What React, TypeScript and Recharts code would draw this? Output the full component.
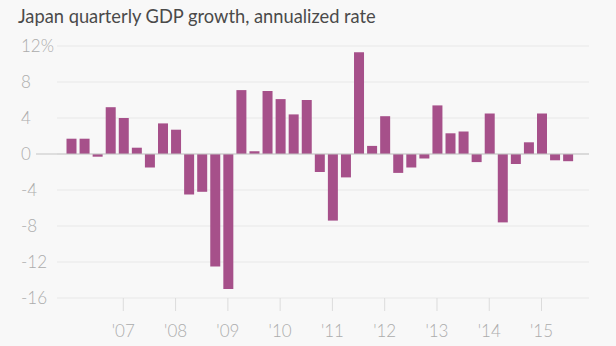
import { BarChart, Bar, XAxis, YAxis, CartesianGrid, ReferenceLine } from 'recharts';

const quarters = [
  '2006 Q1', '2006 Q2', '2006 Q3', '2006 Q4',
  '2007 Q1', '2007 Q2', '2007 Q3', '2007 Q4',
  '2008 Q1', '2008 Q2', '2008 Q3', '2008 Q4',
  '2009 Q1', '2009 Q2', '2009 Q3', '2009 Q4',
  '2010 Q1', '2010 Q2', '2010 Q3', '2010 Q4',
  '2011 Q1', '2011 Q2', '2011 Q3', '2011 Q4',
  '2012 Q1', '2012 Q2', '2012 Q3', '2012 Q4',
  '2013 Q1', '2013 Q2', '2013 Q3', '2013 Q4',
  '2014 Q1', '2014 Q2', '2014 Q3', '2014 Q4',
  '2015 Q1', '2015 Q2', '2015 Q3',
];

const growth = [
  1.7, 1.7, -0.3, 5.2,
  4.0, 0.7, -1.5, 3.4,
  2.7, -4.5, -4.2, -12.5,
  -15.0, 7.1, 0.3, 7.0,
  6.1, 4.4, 6.0, -2.0,
  -7.4, -2.6, 11.3, 0.9,
  4.2, -2.1, -1.5, -0.5,
  5.4, 2.3, 2.5, -0.9,
  4.5, -7.6, -1.1, 1.3,
  4.5, -0.7, -0.8,
];

const yearTicks = ['2007 Q1', '2008 Q1', '2009 Q1', '2010 Q1', '2011 Q1', '2012 Q1', '2013 Q1', '2014 Q1', '2015 Q1'];
const yearLabels = ["'07", "'08", "'09", "'10", "'11", "'12", "'13", "'14", "'15"];
const yTicks = [-16, -12, -8, -4, 0, 4, 8, 12];

const data = quarters.map((q, i) => ({ quarter: q, value: growth[i] }));

const FONT = 'Lato, "Open Sans", sans-serif';
const LABEL = '#acacac';

const XTick = ({ x, y, payload }: any) => {
  const idx = yearTicks.indexOf(payload.value);
  if (idx < 0) return <g />;
  return (
    <g>
      <line x1={x} x2={x} y1={y} y2={y + 13} stroke="#dcdcdc" />
      <text x={x} y={y + 39} textAnchor="middle" fill={LABEL} fontSize={17} fontFamily={FONT} fontWeight={300}>
        {yearLabels[idx]}
      </text>
    </g>
  );
};

const YTick = ({ x, y, payload }: any) => (
  <text x={x - 36} y={y + 6} textAnchor="start" fill={LABEL} fontSize={17} fontFamily={FONT} fontWeight={300}>
    {payload.value === 12 ? '12%' : payload.value}
  </text>
);

// zero line runs a bit further left than the gridlines
const ZeroLine = (p: any) => (
  <line x1={p.x1 - 21} x2={p.x2} y1={p.y1} y2={p.y2} stroke="#c4c4c4" strokeWidth={1.2} />
);

export default function App() {
  return (
    <div style={{ position: 'absolute', left: 0, top: 0, width: 616, height: 346, background: '#f8f8f8' }}>
      <svg width={616} height={40} style={{ position: 'absolute', left: 0, top: 0 }}>
        <text x={18} y={23} fill="#4a4a4a" fontSize={18.3} fontFamily={FONT}>
          Japan quarterly GDP growth, annualized rate
        </text>
      </svg>
      <div style={{ position: 'absolute', left: 0, top: 0 }}>
        <BarChart width={616} height={346} data={data} margin={{ top: 46, right: 27, bottom: 8, left: 0 }}>
          <CartesianGrid vertical={false} stroke="#e8e8e8" />
          <XAxis
            dataKey="quarter"
            interval={0}
            axisLine={false}
            tickLine={false}
            tickSize={0}
            tickMargin={0}
            height={40}
            padding={{ left: 7.5, right: 14.8 }}
            tick={<XTick />}
          />
          <YAxis
            width={57}
            domain={[-16, 12]}
            ticks={yTicks}
            axisLine={false}
            tickLine={false}
            tickSize={0}
            tickMargin={0}
            tick={<YTick />}
          />
          <ReferenceLine y={0} shape={<ZeroLine />} />
          <Bar dataKey="value" fill="#a6508a" barSize={10} isAnimationActive={false} />
        </BarChart>
      </div>
    </div>
  );
}
